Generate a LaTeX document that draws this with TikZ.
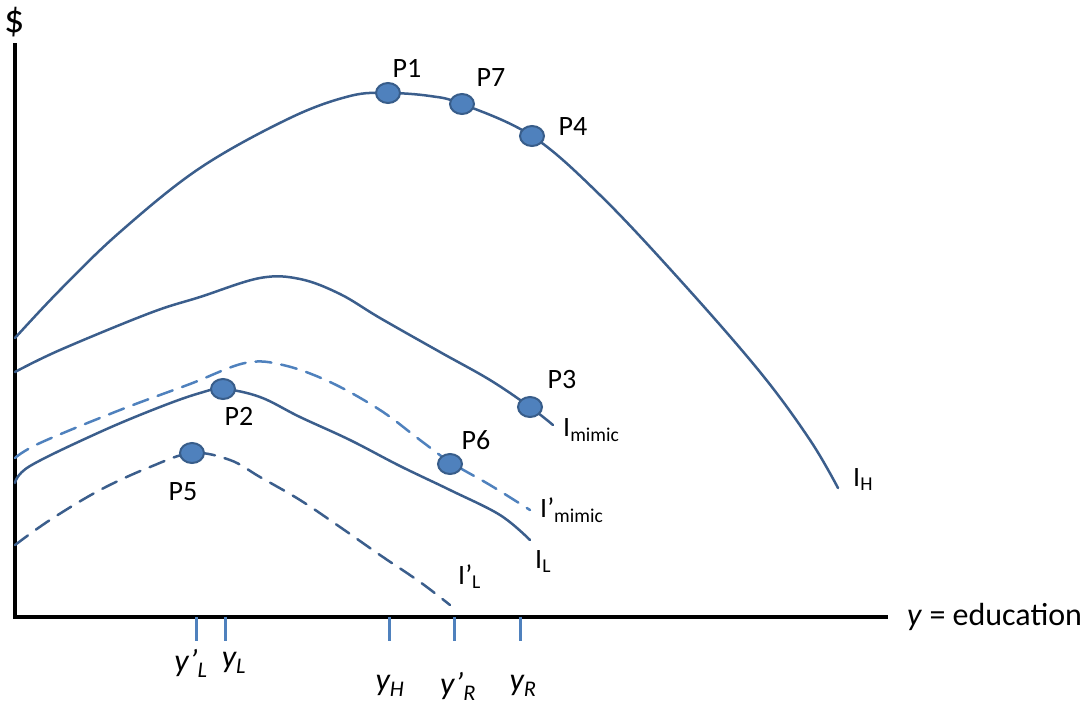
\documentclass[tikz,border=0pt]{standalone}
\usepackage{fontspec}
\setmainfont{Carlito}
\usetikzlibrary{positioning,shapes.geometric}
\definecolor{curveblue}{HTML}{3B5E8C}
\definecolor{lightblue}{HTML}{4F81BD}
\definecolor{dotedge}{HTML}{385D8A}

\begin{document}
\begin{tikzpicture}[
    x=1pt, y=-1pt,
    curve/.style={draw=curveblue, line width=2.5pt, line cap=round},
    dashcurve/.style={curve, dash pattern=on 16pt off 10pt},
    ptdot/.style={ellipse, draw=dotedge, fill=lightblue, line width=2pt, minimum width=24pt, minimum height=20pt, inner sep=0pt},
    lbl/.style={font=\fontsize{28}{32}\selectfont, inner sep=0pt},
    ylbl/.style={font=\fontsize{32}{36}\selectfont\itshape, inner sep=0pt},
    axis/.style={black, line width=4pt},
    tick/.style={lightblue, line width=3pt}
]
\useasboundingbox (0,0) rectangle (1087,705);

% axes
\draw[axis] (15,43) -- (15,617) -- (888,617);
\node[lbl, font=\fontsize{40}{44}\selectfont] (dollar) at (15,22) {\char36};
\node[lbl, anchor=west, font=\fontsize{32}{36}\selectfont] (xlab) at (907,617) {\textit{y} = education};

% indifference curves
\draw[curve] plot[smooth, tension=0.6] coordinates {(15,338) (60,290) (120,232) (200,168) (290,118) (350,96) (388,93) (430,96) (462,104) (532,136) (600,195) (680,280) (760,372) (810,440) (838,488)};
\draw[curve] plot[smooth, tension=0.6] coordinates {(15,372) (60,350) (150,313) (200,297) (260,278) (300,279) (340,294) (380,318) (440,352) (490,380) (530,407) (553,425)};
\draw[dashcurve, draw=lightblue] plot[smooth, tension=0.6] coordinates {(15,458) (40,443) (120,410) (190,384) (245,363) (283,365) (330,382) (380,410) (420,440) (450,462) (490,485) (530,510)};
\draw[curve] plot[smooth, tension=0.6] coordinates {(15,483) (30,466) (100,432) (160,407) (200,393) (223,389) (260,397) (300,417) (350,440) (400,466) (450,490) (500,515) (530,540)};
\draw[dashcurve] plot[smooth, tension=0.6] coordinates {(15,545) (50,520) (100,490) (150,467) (192,453) (230,460) (260,477) (300,500) (340,527) (380,555) (420,582) (450,605)};

% points
\node[ptdot] (p1) at (388,93) {};
\node[ptdot] (p7) at (462,104) {};
\node[ptdot] (p4) at (532,136) {};
\node[ptdot] (p3) at (530,407) {};
\node[ptdot] (p6) at (450,464) {};
\node[ptdot] (p2) at (223,389) {};
\node[ptdot] (p5) at (192,453) {};

\node[lbl] (p1l) at (407,68) {P1};
\node[lbl] (p7l) at (491,78) {P7};
\node[lbl] (p4l) at (573,127) {P4};
\node[lbl] (p3l) at (562,380) {P3};
\node[lbl] (p6l) at (476,440) {P6};
\node[lbl] (p2l) at (239,416) {P2};
\node[lbl] (p5l) at (183,492) {P5};

% curve labels
\node[lbl, anchor=west] (ih) at (853,480) {I\textsubscript{H}};
\node[lbl, anchor=west] (imimic) at (563,430) {I\textsubscript{mimic}};
\node[lbl, anchor=west] (imimic2) at (540,510) {I’\textsubscript{mimic}};
\node[lbl, anchor=west] (il) at (535,562) {I\textsubscript{L}};
\node[lbl, anchor=west] (il2) at (458,577) {I’\textsubscript{L}};

% ticks
\foreach \tx in {196,225,389,454,520}
  \draw[tick] (\tx,617) -- (\tx,641);
\node[ylbl] (yl2) at (191,663) {y’\textsubscript{L}};
\node[ylbl] (yl) at (234,663) {y\textsubscript{L}};
\node[ylbl] (yh) at (390,686) {y\textsubscript{H}};
\node[ylbl] (yr2) at (458,686) {y’\textsubscript{R}};
\node[ylbl] (yr) at (523,686) {y\textsubscript{R}};

\end{tikzpicture}
\end{document}
